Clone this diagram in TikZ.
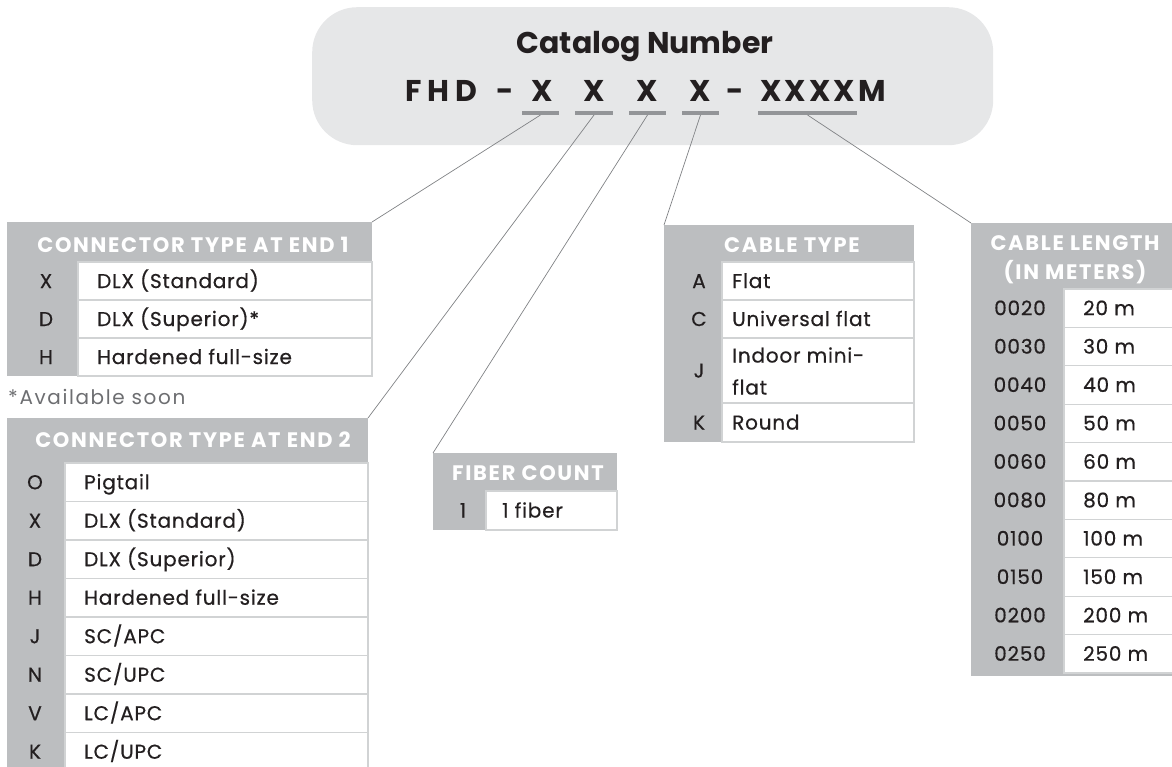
\documentclass[tikz,border=0pt]{standalone}
\usepackage{fontspec}
\setmainfont{Poppins}
\newfontfamily\rowfam{Poppins}[FakeBold=0.5, LetterSpace=4]
\newfontfamily\hdrfam{Poppins}[LetterSpace=8]
\newfontfamily\notefam{Poppins}[LetterSpace=8]
\definecolor{tgrey}{HTML}{BCBEC0}
\definecolor{topgrey}{HTML}{E6E7E8}
\definecolor{bargrey}{HTML}{939598}
\definecolor{linegrey}{HTML}{808285}
\definecolor{sepgrey}{HTML}{D1D3D4}
\definecolor{ink}{HTML}{231F20}
\definecolor{softgrey}{HTML}{6D6E71}
\newcommand\hdrfont{\hdrfam\fontsize{21}{29}\selectfont\bfseries}
\newcommand\rowfont{\rowfam\fontsize{20}{32}\selectfont}
\newcommand\bigfont{\fontsize{30}{34}\selectfont\bfseries}
\begin{document}
\begin{tikzpicture}[x=1pt,y=-1pt,
  tblbg/.style={rectangle, fill=tgrey, draw=none, inner sep=0pt, outer sep=0pt, anchor=north west},
  cellbox/.style={rectangle, fill=white, draw=sepgrey, line width=1.3pt, inner sep=0pt, outer sep=0pt, anchor=north west},
  hdrtxt/.style={text=white, font=\hdrfont, inner sep=0pt, anchor=base},
  codetxt/.style={text=ink, font=\rowfont, inner sep=0pt, anchor=base},
  rowtxt/.style={text=ink, font=\rowfont, inner sep=0pt, anchor=base west},
  bar/.style={rectangle, fill=bargrey, minimum height=4pt, inner sep=0pt, outer sep=0pt, anchor=north west},
  leader/.style={draw=linegrey, line width=0.7pt},
  bigtxt/.style={text=ink, font=\bigfont, inner sep=0pt, anchor=base}]
\useasboundingbox (0,0) rectangle (1172,766);

% catalog number box
\node[rectangle, fill=topgrey, rounded corners=45pt, minimum width=681pt, minimum height=138pt, inner sep=0pt, anchor=north west] (cat) at (312,7) {};
\node[bigtxt] (title) at (645,53) {Catalog Number};
\node[bigtxt, anchor=base west] (fhd) at (405,101) {F\kern6pt H\kern6pt D};
\node[bigtxt] (d1) at (505,101) {-};
\node[bigtxt] (x1) at (542,101) {X};
\node[bigtxt] (x2) at (594,101) {X};
\node[bigtxt] (x3) at (647,101) {X};
\node[bigtxt] (x4) at (700,101) {X};
\node[bigtxt] (d2) at (735,101) {-};
\node[bigtxt, anchor=base west] (x5) at (760,101) {X\kern3pt X\kern3pt X\kern3pt X\kern3pt M};

\node[bar, minimum width=37pt] (b1) at (522,111) {};
\node[bar, minimum width=38pt] (b2) at (575,111) {};
\node[bar, minimum width=37pt] (b3) at (629,111) {};
\node[bar, minimum width=37pt] (b4) at (682,111) {};
\node[bar, minimum width=99pt] (b5) at (758,111) {};

% connector type at end 1
\node[tblbg, minimum width=365pt, minimum height=154pt] (e1) at (7,222) {};
\node[hdrtxt] (e1h) at (193,252.5) {CONNECTOR TYPE AT END 1};
\foreach \c/\t [count=\i from 0] in {X/{DLX (Standard)},D/{DLX (Superior)*},H/{Hardened full-size}}{
  \pgfmathsetmacro\yt{262+38*\i}
  \node[cellbox, minimum width=294pt, minimum height=38pt] (e1r\i) at (78,\yt) {};
  \node[codetxt] (e1c\i) at (46,\yt+26) {\c};
  \node[rowtxt] (e1t\i) at (97,\yt+26) {\t};
}
\node[text=softgrey, font=\notefam\fontsize{20}{22}\selectfont, inner sep=0pt, anchor=base west] (avail) at (8,404) {*Available soon};

% connector type at end 2
\node[tblbg, minimum width=361pt, minimum height=352pt] (e2) at (7,418) {};
\node[hdrtxt] (e2h) at (193,447.5) {CONNECTOR TYPE AT END 2};
\foreach \c/\t [count=\i from 0] in {O/{Pigtail},X/{DLX (Standard)},D/{DLX (Superior)},H/{Hardened full-size},J/{SC/APC},N/{SC/UPC},V/{LC/APC},K/{LC/UPC}}{
  \pgfmathsetmacro\yt{463+38.5*\i}
  \node[cellbox, minimum width=303pt, minimum height=38.5pt] (e2r\i) at (65,\yt) {};
  \node[codetxt] (e2c\i) at (35,\yt+26.2) {\c};
  \node[rowtxt] (e2t\i) at (84,\yt+26.2) {\t};
}

% fiber count
\node[tblbg, minimum width=184pt, minimum height=77pt] (fc) at (433,453) {};
\node[hdrtxt] (fch) at (528,480.5) {FIBER COUNT};
\node[cellbox, minimum width=131pt, minimum height=39pt] (fcr0) at (486,491) {};
\node[codetxt] (fcc0) at (463,517.5) {1};
\node[rowtxt] (fct0) at (502,517.5) {1 fiber};

% cable type
\node[tblbg, minimum width=250pt, minimum height=217pt] (ct) at (664,225) {};
\node[hdrtxt] (cth) at (792,252.5) {CABLE TYPE};
\node[cellbox, minimum width=192pt, minimum height=38pt] (ctr0) at (722,262) {};
\node[cellbox, minimum width=192pt, minimum height=38pt] (ctr1) at (722,300) {};
\node[cellbox, minimum width=192pt, minimum height=65pt] (ctr2) at (722,338) {};
\node[cellbox, minimum width=192pt, minimum height=39pt] (ctr3) at (722,403) {};
\node[codetxt] (ctc0) at (699,288) {A};
\node[rowtxt] (ctt0) at (732,288) {Flat};
\node[codetxt] (ctc1) at (699,326) {C};
\node[rowtxt] (ctt1) at (732,326) {Universal flat};
\node[codetxt] (ctc2) at (699,377.5) {J};
\node[text=ink, font=\rowfont, inner sep=0pt, anchor=west, align=left] (ctt2) at (732,371) {Indoor mini-\\flat};
\node[codetxt] (ctc3) at (699,429.5) {K};
\node[rowtxt] (ctt3) at (732,429.5) {Round};

% cable length
\node[tblbg, minimum width=201pt, minimum height=453pt] (cl) at (971,223) {};
\node[text=white, font=\hdrfont, inner sep=0pt, align=center] (clh) at (1075,260) {CABLE LENGTH\\(IN METERS)};
\foreach \c/\t [count=\i from 0] in {0020/{20 m},0030/{30 m},0040/{40 m},0050/{50 m},0060/{60 m},0080/{80 m},0100/{100 m},0150/{150 m},0200/{200 m},0250/{250 m}}{
  \pgfmathsetmacro\yt{289+38.4*\i}
  \node[cellbox, minimum width=112pt, minimum height=38.4pt] (clr\i) at (1064,\yt) {};
  \node[codetxt] (clc\i) at (1020,\yt+26.2) {\c};
  \node[rowtxt] (clt\i) at (1083,\yt+26.2) {\t};
}

% leaders
\draw[leader] (b1.south) -- (e1.north east);
\draw[leader] (b2.south) -- (e2.north east);
\draw[leader] (b3.south) -- (fc.north west);
\draw[leader] (b4.south) -- (ct.north west);
\draw[leader] (b5.south) -- (cl.north west);
\end{tikzpicture}
\end{document}
